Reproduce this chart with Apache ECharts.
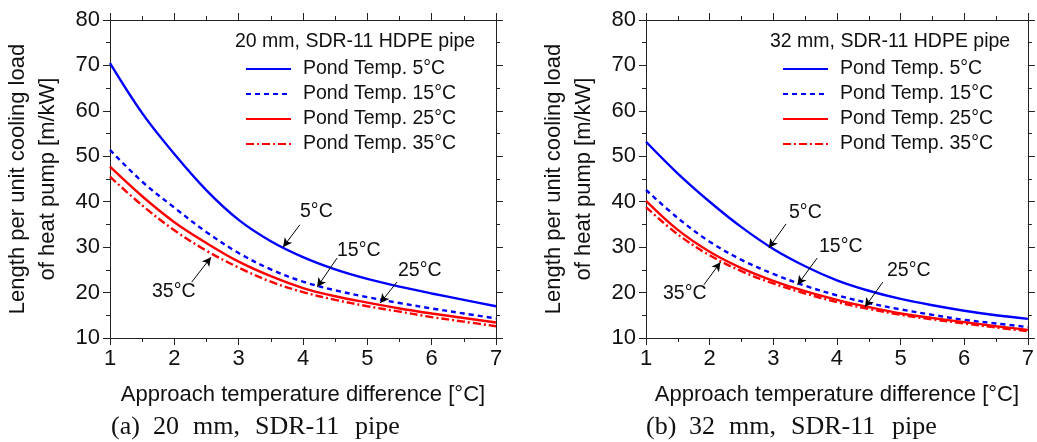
<!DOCTYPE html>
<html>
<head>
<meta charset="utf-8">
<script src="https://cdn.jsdelivr.net/npm/echarts@6/dist/echarts.min.js"></script>
<style>
  html, body { margin: 0; padding: 0; background: #fff; }
  #chart { width: 1037px; height: 442px; }
</style>
</head>
<body>
<div id="chart"></div>
<script>
// approach temperature difference [°C]
const xs = [1, 1.5, 2, 2.5, 3, 3.5, 4, 4.5, 5, 5.5, 6, 6.5, 7]

// (a) 20 mm pipe, length per unit cooling load [m/kW]
const left5 = [70.5, 59.5, 50.5, 42.5, 36, 31.3, 27.8, 25.1, 23, 21.3, 19.8, 18.4, 17]
const left15 = [51.4, 44.4, 38.7, 33.3, 28.7, 25.1, 22.4, 20.5, 19, 17.7, 16.5, 15.4, 14.3]
const left25 = [47.7, 41.2, 35.5, 30.9, 26.8, 23.6, 21, 19.2, 17.8, 16.5, 15.4, 14.4, 13.4]
const left35 = [45.5, 39.2, 33.7, 29.2, 25.5, 22.4, 20.1, 18.4, 17, 15.8, 14.6, 13.6, 12.6]

// (b) 32 mm pipe
const right5 = [53.2, 46.2, 40, 34.4, 29.6, 25.8, 22.7, 20.4, 18.6, 17.2, 16, 15, 14.2]
const right15 = [42.6, 36.4, 31.2, 27.2, 24.1, 21.5, 19.4, 17.7, 16.3, 15.1, 14, 13.2, 12.4]
const right25 = [40.2, 33.8, 29, 25.4, 22.6, 20.3, 18.4, 16.8, 15.4, 14.4, 13.5, 12.6, 11.8]
const right35 = [38.8, 32.8, 28.2, 24.7, 22, 19.8, 17.9, 16.4, 15.1, 14.1, 13.2, 12.3, 11.5]

const names = ['Pond Temp. 5°C', 'Pond Temp. 15°C', 'Pond Temp. 25°C', 'Pond Temp. 35°C']
const yTicks = { min: 10, max: 80, interval: 10 }
const xTicks = { min: 1, max: 7, interval: 1 }

const FONT = 'Liberation Sans, Arial, sans-serif'
const SERIF = 'Liberation Serif, Times New Roman, serif'
const pairs = (ys) => xs.map((x, i) => [x, ys[i]])

const styles = [
  { color: '#0000ff', type: 'solid' },
  { color: '#0000ff', type: [5, 4] },
  { color: '#ff0000', type: 'solid' },
  { color: '#ff0000', type: [8, 3, 2, 3] }
]

function makeSeries(sets, gi, arrows) {
  return sets.map((ys, k) => {
    const s = {
      name: names[k],
      type: 'line',
      xAxisIndex: gi * 2,
      yAxisIndex: gi * 2,
      data: pairs(ys),
      smooth: 0.35,
      symbol: 'none',
      lineStyle: { width: 2.4, color: styles[k].color, type: styles[k].type },
      itemStyle: { color: styles[k].color },
      z: 3
    }
    if (k === 0) {
      s.markLine = {
        silent: true,
        symbol: ['none', 'arrow'],
        symbolSize: [7, 9],
        label: { show: false },
        lineStyle: { color: '#000', width: 1, type: 'solid' },
        data: arrows.map(a => [{ coord: a[0] }, { coord: a[1] }])
      }
    }
    return s
  })
}

const leftArrows = [
  [[3.95, 34.9], [3.69, 30.0]],
  [[4.53, 27.6], [4.22, 21.2]],
  [[5.46, 22.3], [5.2, 17.7]],
  [[2.27, 22.3], [2.57, 27.8]]
]
const rightArrows = [
  [[3.2, 35.1], [2.93, 29.8]],
  [[3.69, 27.6], [3.38, 21.7]],
  [[4.72, 22.3], [4.44, 16.8]],
  [[1.91, 21.7], [2.17, 26.7]]
]

const axisLine = { show: true, lineStyle: { color: '#222', width: 1 } }
const axisTick = { show: true, inside: false, length: 7, lineStyle: { color: '#222' } }
const minorTick = { show: true, splitNumber: 2, length: 4, lineStyle: { color: '#222' } }

function xAxes(gi) {
  return [
    {
      type: 'value', gridIndex: gi, ...xTicks, position: 'bottom',
      axisLine, axisTick, minorTick, splitLine: { show: false },
      axisLabel: { color: '#111', fontSize: 22, fontFamily: FONT, margin: 10 },
      name: 'Approach temperature difference [°C]', nameLocation: 'middle', nameGap: 46,
      nameTextStyle: { color: '#111', fontSize: 22, fontFamily: FONT }
    },
    {
      type: 'value', gridIndex: gi, ...xTicks, position: 'top',
      axisLine, axisTick, minorTick, splitLine: { show: false }, axisLabel: { show: false }
    }
  ]
}
function yAxes(gi) {
  return [
    {
      type: 'value', gridIndex: gi, ...yTicks, position: 'left',
      axisLine, axisTick, minorTick, splitLine: { show: false },
      axisLabel: { color: '#111', fontSize: 22, fontFamily: FONT, margin: 10 },
      name: 'Length per unit cooling load\nof heat pump [m/kW]', nameLocation: 'middle', nameGap: 47,
      nameTextStyle: { color: '#111', fontSize: 22, fontFamily: FONT, lineHeight: 30 }
    },
    {
      type: 'value', gridIndex: gi, ...yTicks, position: 'right',
      axisLine, axisTick, minorTick, splitLine: { show: false }, axisLabel: { show: false }
    }
  ]
}

function legendAt(left) {
  return {
    orient: 'vertical', left: left, top: 59, padding: 0,
    data: names, icon: 'inherit', itemWidth: 45, itemHeight: 12, itemGap: 5,
    selectedMode: false,
    itemStyle: { color: 'rgba(0,0,0,0)', borderColor: 'rgba(0,0,0,0)', borderWidth: 0 },
    textStyle: { color: '#111', fontSize: 19.5, fontFamily: FONT, lineHeight: 20, padding: [0, 0, 0, 7] }
  }
}

function txt(x, y, s, size, family) {
  return {
    type: 'text', left: x, top: y,
    style: { text: s, fill: '#111', fontSize: size || 19.5, fontFamily: family || FONT }
  }
}

// caption words sit at their own x positions, as in the original typesetting
const capLeft = [['(a)', 111], ['20', 153], ['mm,', 193], ['SDR-11', 255], ['pipe', 355]]
const capRight = [['(b)', 646], ['32', 689], ['mm,', 729], ['SDR-11', 791], ['pipe', 892]]

const chart = echarts.init(document.getElementById('chart'))
chart.setOption({
  animation: false,
  backgroundColor: '#fff',
  grid: [
    { left: 110, top: 20, width: 386, height: 318 },
    { left: 646, top: 20, width: 386, height: 318 }
  ],
  xAxis: [...xAxes(0), ...xAxes(1)],
  yAxis: [...yAxes(0), ...yAxes(1)],
  legend: [legendAt(245), legendAt(782)],
  series: [
    ...makeSeries([left5, left15, left25, left35], 0, leftArrows),
    ...makeSeries([right5, right15, right25, right35], 1, rightArrows)
  ],
  graphic: [
    txt(235, 32, '20 mm, SDR-11 HDPE pipe'),
    txt(770, 32, '32 mm, SDR-11 HDPE pipe'),
    // curve annotations, left
    txt(300, 202, '5°C'),
    txt(337, 241, '15°C'),
    txt(398, 261, '25°C'),
    txt(152, 282, '35°C'),
    // curve annotations, right
    txt(789, 203, '5°C'),
    txt(819, 237, '15°C'),
    txt(887, 261, '25°C'),
    txt(663, 284, '35°C'),
    ...capLeft.map(w => txt(w[1], 414, w[0], 26, SERIF)),
    ...capRight.map(w => txt(w[1], 414, w[0], 26, SERIF))
  ]
})
</script>
</body>
</html>
